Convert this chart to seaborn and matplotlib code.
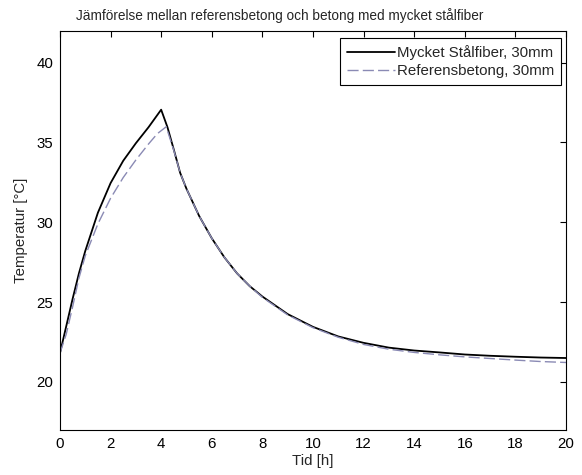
import matplotlib
matplotlib.use("Agg")
import matplotlib.pyplot as plt
import seaborn as sns
import pandas as pd

# Data
tid_stal = [0, 0.25, 0.5, 0.75, 1.0, 1.5, 2.0, 2.5, 3.0, 3.5, 4.0, 4.25, 4.5, 4.75,
            5.0, 5.5, 6.0, 6.5, 7.0, 7.5, 8.0, 8.5, 9.0, 10, 11, 12, 13, 14, 15, 16,
            17, 18, 19, 20]
temp_stal = [21.8, 23.5, 25.2, 26.8, 28.2, 30.6, 32.45, 33.85, 34.95, 35.95, 37.05, 35.95,
             34.55, 33.1, 32.1, 30.4, 29.0, 27.8, 26.8, 26.0, 25.35, 24.8, 24.25, 23.45,
             22.85, 22.45, 22.15, 21.97, 21.85, 21.72, 21.64, 21.58, 21.53, 21.5]

tid_ref = [0, 0.25, 0.5, 0.75, 1.0, 1.5, 2.0, 2.5, 3.0, 3.5, 3.85, 4.2, 4.5, 4.75,
           5.0, 5.5, 6.0, 6.5, 7.0, 7.5, 8.0, 8.5, 9.0, 10, 11, 12, 13, 14, 15, 16,
           17, 18, 19, 20]
temp_ref = [21.8, 23.0, 24.7, 26.5, 27.9, 29.9, 31.5, 32.8, 33.9, 34.9, 35.55, 35.98,
            34.5, 33.1, 32.1, 30.4, 29.0, 27.8, 26.8, 26.0, 25.3, 24.75, 24.2, 23.4,
            22.8, 22.35, 22.05, 21.85, 21.7, 21.57, 21.47, 21.37, 21.28, 21.22]

serie_namn = ["Mycket Stålfiber, 30mm", "Referensbetong, 30mm"]
x_ticks = [0, 2, 4, 6, 8, 10, 12, 14, 16, 18, 20]
y_ticks = [20, 25, 30, 35, 40]

df_stal = pd.DataFrame({"Tid": tid_stal, "Temp": temp_stal, "Serie": serie_namn[0]})
df_ref = pd.DataFrame({"Tid": tid_ref, "Temp": temp_ref, "Serie": serie_namn[1]})

sns.set_style("white")
plt.rcParams["font.family"] = ["Liberation Sans", "DejaVu Sans"]

FS = 10.8

fig = plt.figure(figsize=(5.82, 4.75), dpi=100)
ax = fig.add_axes([0.103, 0.095, 0.8695, 0.8405])

sns.lineplot(data=df_stal, x="Tid", y="Temp", ax=ax, color="black", lw=1.3,
             label=serie_namn[0], estimator=None, sort=False)
sns.lineplot(data=df_ref, x="Tid", y="Temp", ax=ax, color="#8a8ab4", lw=1.0,
             label=serie_namn[1], estimator=None, sort=False, dashes=False)
ax.lines[1].set_dashes([8, 3])

ax.set_xlim(0, 20)
ax.set_ylim(17, 42)
ax.set_xticks(x_ticks)
ax.set_yticks(y_ticks)
ax.tick_params(direction="in", length=4, width=0.8, top=True, right=True,
               labelsize=FS, colors="black", pad=5)
for s in ax.spines.values():
    s.set_color("black")
    s.set_linewidth(0.8)

ax.set_xlabel("Tid [h]", fontsize=FS, labelpad=2)
ax.set_ylabel("Temperatur [°C]", fontsize=FS, labelpad=6)
ax.set_title("Jämförelse mellan referensbetong och betong med mycket stålfiber",
             fontsize=9.8, pad=8, x=0.435)

leg = ax.legend(loc="upper right", bbox_to_anchor=(0.99, 0.981), borderaxespad=0,
                fontsize=FS, handlelength=3.2, handletextpad=0.15,
                frameon=True, fancybox=False, framealpha=1, edgecolor="black",
                borderpad=0.45, labelspacing=0.3)
leg.get_frame().set_linewidth(0.8)

fig.savefig("out.png", dpi=100)
